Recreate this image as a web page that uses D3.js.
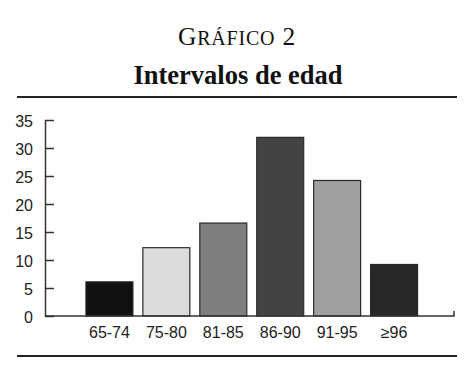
<!DOCTYPE html>
<html>
<head>
<meta charset="utf-8">
<script src="https://cdn.jsdelivr.net/npm/d3@7"></script>
<style>
  html, body { margin: 0; padding: 0; background: #fff; }
  svg { display: block; }
</style>
</head>
<body>
<svg id="chart" width="472" height="380"></svg>
<script>
const categories = ["65-74", "75-80", "81-85", "86-90", "91-95", "\u226596"];
const values = [6.1, 12.2, 16.6, 31.9, 24.2, 9.2];
const barColors = ["#111111", "#dcdcdc", "#7f7f7f", "#434343", "#a0a0a0", "#282828"];
const yTicks = [0, 5, 10, 15, 20, 25, 30, 35];

const svg = d3.select("#chart");
const W = 472, H = 380;
const plot = { left: 45, right: 454, top: 120, bottom: 316 };

// Titles
const t1 = svg.append("text")
  .attr("x", W / 2 + 1).attr("y", 45)
  .attr("text-anchor", "middle")
  .attr("font-family", "Liberation Serif, Times New Roman, serif")
  .attr("fill", "#111")
  .attr("letter-spacing", "0.8");
t1.append("tspan").attr("font-size", 25.5).text("G");
t1.append("tspan").attr("font-size", 20).text("RÁFICO");
t1.append("tspan").attr("font-size", 25.5).text(" 2");

svg.append("text")
  .attr("x", W / 2 + 2).attr("y", 83.5)
  .attr("text-anchor", "middle")
  .attr("font-family", "Liberation Serif, Times New Roman, serif")
  .attr("font-weight", "bold")
  .attr("font-size", 26.5)
  .attr("fill", "#111")
  .text("Intervalos de edad");

// Rules
const rule = d3.scaleLinear().domain([0, 1]).range([17, 457]);
[97, 356].forEach(yy => {
  svg.append("line")
    .attr("x1", rule(0)).attr("x2", rule(1))
    .attr("y1", yy).attr("y2", yy)
    .attr("stroke", "#222").attr("stroke-width", 2);
});

// Scales
const x = d3.scaleBand().domain(categories).range([81, 422.5]).paddingInner(0.175).paddingOuter(0.087);
const y = d3.scaleLinear().domain([0, 35]).range([plot.bottom, plot.top]);

// Bars
svg.append("g").selectAll("rect")
  .data(values)
  .join("rect")
  .attr("x", (d, i) => x(categories[i]))
  .attr("y", d => y(d))
  .attr("width", x.bandwidth())
  .attr("height", d => y(0) - y(d))
  .attr("fill", (d, i) => barColors[i])
  .attr("stroke", "#2a2a2a")
  .attr("stroke-width", 1.2);

// Y axis
const yAxis = svg.append("g")
  .attr("transform", `translate(${plot.left},0)`)
  .call(d3.axisLeft(y).tickValues(yTicks).tickSizeInner(-9).tickSizeOuter(0).tickPadding(12));
yAxis.select(".domain").attr("stroke", "#333").attr("stroke-width", 1.5);
yAxis.selectAll(".tick line").attr("stroke", "#333").attr("stroke-width", 1.5);
yAxis.selectAll(".tick text")
  .attr("font-family", "Liberation Sans, Arial, sans-serif")
  .attr("font-size", 16)
  .attr("fill", "#222")
  .attr("dy", "0.42em");

// X axis baseline with end tick
svg.append("path")
  .attr("d", `M${plot.left},${y(0)}H${plot.right}V${y(0) - 5}`)
  .attr("fill", "none").attr("stroke", "#333").attr("stroke-width", 1.5);

const xAxis = svg.append("g")
  .attr("transform", `translate(0,${y(0)})`)
  .call(d3.axisBottom(x).tickSize(0).tickPadding(11));
xAxis.select(".domain").remove();
xAxis.selectAll(".tick text")
  .attr("font-family", "Liberation Sans, Arial, sans-serif")
  .attr("font-size", 16)
  .attr("fill", "#222");
</script>
</body>
</html>
